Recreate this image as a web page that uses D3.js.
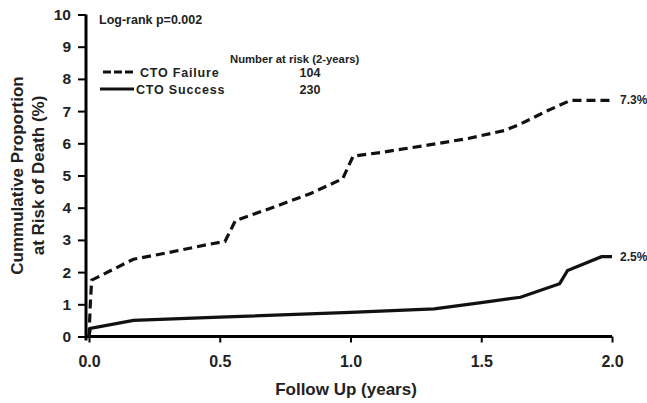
<!DOCTYPE html>
<html>
<head>
<meta charset="utf-8">
<script src="https://cdn.jsdelivr.net/npm/d3@7"></script>
<style>
    body { margin: 0; background: white; }
    text { font-family: "Liberation Sans", Arial, sans-serif; font-weight: bold; fill: #222; }
</style>
</head>
<body>
<div id="chart"></div>
<script>
// Kaplan-Meier style cumulative curves
const failureYears = [0, 0.005, 0.01, 0.17, 0.3, 0.45, 0.52, 0.56, 0.7, 0.85, 0.97, 1.01, 1.12, 1.3, 1.45, 1.59, 1.65, 1.75, 1.84, 2.0];
const failureRisk  = [0, 1.0, 1.75, 2.4, 2.6, 2.85, 2.95, 3.6, 4.0, 4.45, 4.9, 5.6, 5.72, 5.95, 6.15, 6.4, 6.6, 7.0, 7.33, 7.33];
const successYears = [0, 0.005, 0.17, 0.5, 1.0, 1.32, 1.5, 1.65, 1.8, 1.83, 1.96, 2.0];
const successRisk  = [0, 0.25, 0.5, 0.6, 0.75, 0.86, 1.05, 1.22, 1.64, 2.05, 2.48, 2.48];

const seriesNames = ["CTO Failure", "CTO Success"];
const atRisk = [104, 230];
const endLabels = ["7.3%", "2.5%"];
const xTicks = [0, 0.5, 1.0, 1.5, 2.0];
const yTicks = [0, 1, 2, 3, 4, 5, 6, 7, 8, 9, 10];

const width = 647, height = 403;
const margin = {top: 14, right: 35, bottom: 67, left: 89};

const svg = d3.select("#chart")
    .append("svg")
        .attr("width", width)
        .attr("height", height);

const x = d3.scaleLinear()
    .domain([0, 2])
    .range([margin.left, width - margin.right]);

const y = d3.scaleLinear()
    .domain([0, 10])
    .range([height - margin.bottom + 0.5, margin.top + 0.5]);

// x axis
svg.append("g")
    .attr("transform", `translate(0,${y(0)})`)
    .call(d3.axisBottom(x).tickValues(xTicks).tickFormat(d3.format(".1f")).tickSize(6).tickSizeOuter(0).tickPadding(13))
    .call((g) => g.select(".domain").attr("stroke-width", 3).attr("d", `M${margin.left - 4},0H${x(2)}`))
    .call((g) => g.selectAll(".tick line").attr("stroke-width", 2))
    .call((g) => g.selectAll(".tick text").attr("font-size", 16).attr("fill", "#222"));

// y axis
svg.append("g")
    .attr("transform", `translate(${margin.left - 3},0)`)
    .call(d3.axisLeft(y).tickValues(yTicks).tickSize(8).tickSizeOuter(0).tickPadding(7))
    .call((g) => g.select(".domain").attr("stroke-width", 3).attr("d", `M0,${y(10)}V${y(0) + 4}`))
    .call((g) => g.selectAll(".tick line").attr("stroke-width", 2))
    .call((g) => g.selectAll(".tick text").attr("font-size", 15.5).attr("fill", "#222"));

// axis titles
svg.append("text")
    .attr("x", 346)
    .attr("y", 395)
    .attr("text-anchor", "middle")
    .attr("font-size", 17)
    .text("Follow Up (years)");

const yTitle = svg.append("text")
    .attr("transform", `translate(23,${(y(0) + y(10)) / 2}) rotate(-90)`)
    .attr("text-anchor", "middle")
    .attr("font-size", 17);
yTitle.append("tspan").attr("x", 0).attr("dy", 0).text("Cummulative Proportion");
yTitle.append("tspan").attr("x", 0).attr("dy", 21).text("at Risk of Death (%)");

// curves
const line = d3.line()
    .x((d) => x(d[0]))
    .y((d) => y(d[1]));

const failure = d3.zip(failureYears, failureRisk);
const success = d3.zip(successYears, successRisk);

svg.append("path")
    .datum(failure)
    .attr("fill", "none")
    .attr("stroke", "#111")
    .attr("stroke-width", 3.2)
    .attr("stroke-dasharray", "9,5")
    .attr("d", line);

svg.append("path")
    .datum(success)
    .attr("fill", "none")
    .attr("stroke", "#111")
    .attr("stroke-width", 3.2)
    .attr("d", line);

// end labels
[failure, success].forEach((s, i) => {
    const last = s[s.length - 1];
    svg.append("text")
        .attr("x", x(last[0]) + 8)
        .attr("y", y(last[1]) + 4)
        .attr("font-size", 12)
        .attr("fill", "#333")
        .text(endLabels[i]);
});

// legend
svg.append("text")
    .attr("x", 99)
    .attr("y", 24)
    .attr("font-size", 12.5)
    .text("Log-rank p=0.002");

svg.append("text")
    .attr("x", 230)
    .attr("y", 63)
    .attr("font-size", 11.3)
    .text("Number at risk (2-years)");

const legendY = [72, 89];
seriesNames.forEach((name, i) => {
    svg.append("line")
        .attr("x1", i === 0 ? 103 : 100)
        .attr("x2", 134)
        .attr("y1", legendY[i])
        .attr("y2", legendY[i])
        .attr("stroke", "#111")
        .attr("stroke-width", 3)
        .attr("stroke-dasharray", i === 0 ? "8,3" : null);
    svg.append("text")
        .attr("x", i === 0 ? 140 : 136)
        .attr("y", legendY[i] + 5)
        .attr("font-size", 12.5)
        .attr("letter-spacing", 0.8)
        .text(name);
    svg.append("text")
        .attr("x", 310)
        .attr("y", legendY[i] + 5)
        .attr("text-anchor", "middle")
        .attr("font-size", 12.5)
        .text(atRisk[i]);
});
</script>
</body>
</html>
